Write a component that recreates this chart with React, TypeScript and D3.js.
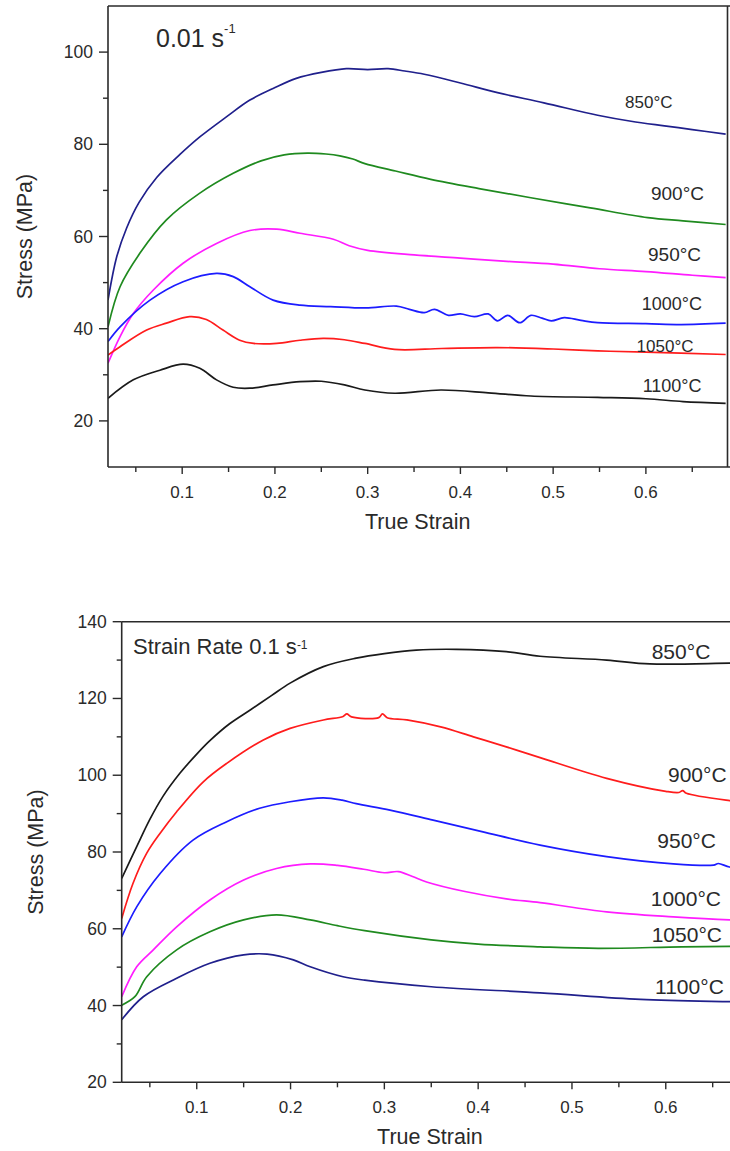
import React from "react";
import * as d3 from "d3";

type Pt = [number, number];

// ---- Temperatures (curve labels) ----
const TEMPS = ["850", "900", "950", "1000", "1050", "1100"];

// ---- Strain rate 0.01 s^-1: [true strain, stress MPa] ----
const slow850: Pt[] = [
  [0.02, 46.2], [0.0294, 55.6], [0.04, 61.8], [0.0535, 67.4], [0.0725, 72.8], [0.0976, 77.8], [0.119, 81.6],
  [0.148, 86.0], [0.173, 89.6], [0.198, 92.1], [0.223, 94.3], [0.25, 95.6], [0.277, 96.4],
  [0.3, 96.2], [0.322, 96.4], [0.34, 95.9], [0.361, 95.2], [0.4, 93.3], [0.44, 91.2],
  [0.49, 89.0], [0.548, 86.3], [0.584, 85.0], [0.62, 84.0], [0.65, 83.2], [0.686, 82.2],
];
const slow900: Pt[] = [
  [0.02, 40.4], [0.033, 49.1], [0.0545, 56.4], [0.083, 63.6], [0.119, 69.4], [0.155, 73.7],
  [0.185, 76.4], [0.21, 77.7], [0.235, 78.1], [0.255, 77.9], [0.27, 77.5], [0.284, 76.8], [0.297, 75.8],
  [0.33, 74.2], [0.368, 72.4], [0.42, 70.4], [0.476, 68.4], [0.54, 66.2], [0.602, 64.1],
  [0.64, 63.4], [0.686, 62.6],
];
const slow950: Pt[] = [
  [0.02, 32.5], [0.033, 38.3], [0.0473, 43.3], [0.0689, 48.4], [0.101, 54.2], [0.137, 58.5],
  [0.173, 61.3], [0.202, 61.6], [0.227, 60.7], [0.263, 59.4], [0.28, 58.0], [0.3, 57.0],
  [0.35, 56.0], [0.4, 55.3], [0.45, 54.6], [0.5, 54.0], [0.55, 53.0], [0.6, 52.4],
  [0.65, 51.6], [0.686, 51.1],
];
const slow1000: Pt[] = [
  [0.02, 37.2], [0.033, 40.4], [0.0653, 46.2], [0.101, 50.2], [0.137, 52.0], [0.155, 51.3],
  [0.173, 49.1], [0.198, 46.2], [0.227, 45.1], [0.26, 44.8], [0.298, 44.5], [0.331, 44.9],
  [0.345, 44.2], [0.361, 43.5], [0.372, 44.2], [0.387, 42.9], [0.4, 43.2], [0.415, 42.6],
  [0.43, 43.2], [0.44, 41.7], [0.451, 42.9], [0.464, 41.3], [0.476, 42.9], [0.488, 42.3],
  [0.498, 41.7], [0.512, 42.4], [0.53, 41.8], [0.548, 41.3], [0.6, 41.1], [0.638, 40.9],
  [0.686, 41.2],
];
const slow1050: Pt[] = [
  [0.02, 34.3], [0.033, 36.1], [0.0617, 39.7], [0.083, 41.2], [0.108, 42.6], [0.126, 42.0],
  [0.144, 39.7], [0.162, 37.5], [0.177, 36.8], [0.202, 36.8], [0.227, 37.5], [0.252, 37.9],
  [0.275, 37.6], [0.297, 36.8], [0.329, 35.5], [0.38, 35.7], [0.44, 35.9], [0.5, 35.6],
  [0.548, 35.2], [0.6, 34.9], [0.686, 34.4],
];
const slow1100: Pt[] = [
  [0.02, 24.9], [0.0473, 28.9], [0.076, 31.0], [0.101, 32.3], [0.119, 31.4], [0.137, 28.9],
  [0.155, 27.3], [0.173, 27.1], [0.198, 27.8], [0.227, 28.5], [0.25, 28.6], [0.275, 27.8],
  [0.297, 26.7], [0.329, 26.0], [0.379, 26.7], [0.43, 26.1], [0.476, 25.4], [0.548, 25.1],
  [0.6, 24.8], [0.64, 24.2], [0.686, 23.8],
];

// ---- Strain rate 0.1 s^-1 ----
const fast850: Pt[] = [
  [0.02, 73.1], [0.036, 81.4], [0.05, 88.5], [0.064, 94.5], [0.082, 100.5], [0.1, 105.5],
  [0.114, 109.0], [0.135, 113.4], [0.157, 117.0], [0.18, 120.8], [0.1995, 124.0], [0.235, 128.3],
  [0.27, 130.5], [0.3, 131.7], [0.334, 132.6], [0.377, 132.8], [0.43, 132.2], [0.466, 131.0],
  [0.537, 130.0], [0.583, 129.0], [0.668, 129.2], [0.685, 129.2],
];
const fast900: Pt[] = [
  [0.02, 62.7], [0.032, 71.8], [0.0467, 79.7], [0.061, 84.9], [0.0786, 90.5], [0.107, 98.3],
  [0.132, 103.1], [0.171, 109.2], [0.1995, 112.2], [0.235, 114.4], [0.256, 115.3], [0.26, 116.0],
  [0.265, 115.2], [0.294, 115.0], [0.298, 116.0], [0.303, 115.0], [0.324, 114.4], [0.36, 112.6],
  [0.395, 110.0], [0.43, 107.4], [0.466, 104.6], [0.537, 99.2], [0.6, 95.8], [0.614, 95.5],
  [0.618, 96.0], [0.622, 95.3], [0.668, 93.4], [0.685, 93.0],
];
const fast950: Pt[] = [
  [0.02, 57.9], [0.036, 65.7], [0.061, 74.4], [0.096, 83.1], [0.132, 87.9], [0.167, 91.4],
  [0.1995, 93.1], [0.235, 94.1], [0.255, 93.5], [0.27, 92.6], [0.306, 90.9], [0.352, 88.3],
  [0.404, 85.3], [0.466, 81.8], [0.537, 78.8], [0.608, 76.9], [0.651, 76.6], [0.656, 77.0],
  [0.668, 76.1], [0.685, 75.9],
];
const fast1000: Pt[] = [
  [0.02, 42.3], [0.036, 50.1], [0.0537, 54.5], [0.0786, 60.5], [0.114, 67.5], [0.15, 72.7],
  [0.185, 75.7], [0.221, 76.9], [0.25, 76.5], [0.278, 75.5], [0.3, 74.6], [0.315, 74.9],
  [0.33, 73.6], [0.345, 72.2], [0.386, 69.7], [0.43, 67.8], [0.466, 66.8], [0.537, 64.4],
  [0.608, 63.1], [0.668, 62.3], [0.685, 62.2],
];
const fast1050: Pt[] = [
  [0.02, 40.1], [0.034, 42.3], [0.0467, 47.5], [0.0786, 54.5], [0.114, 59.2], [0.15, 62.3],
  [0.185, 63.6], [0.221, 62.3], [0.25, 60.8], [0.279, 59.5], [0.35, 57.1], [0.4, 56.0],
  [0.466, 55.3], [0.528, 54.9], [0.617, 55.3], [0.668, 55.4], [0.685, 55.5],
];
const fast1100: Pt[] = [
  [0.02, 36.3], [0.043, 42.3], [0.0786, 47.1], [0.114, 51.0], [0.15, 53.2], [0.175, 53.4],
  [0.203, 51.9], [0.221, 50.1], [0.256, 47.5], [0.279, 46.6], [0.35, 44.9], [0.466, 43.3],
  [0.573, 41.6], [0.668, 41.0], [0.685, 40.9],
];

// ---- Axis ticks ----
const STRAIN_MAJOR = [0.1, 0.2, 0.3, 0.4, 0.5, 0.6];
const STRAIN_MINOR = [0.05, 0.15, 0.25, 0.35, 0.45, 0.55, 0.65];
const SLOW_STRESS_MAJOR = [20, 40, 60, 80, 100];
const SLOW_STRESS_MINOR = [30, 50, 70, 90];
const FAST_STRESS_MAJOR = [20, 40, 60, 80, 100, 120, 140];
const FAST_STRESS_MINOR = [30, 50, 70, 90, 110, 130];

// ---- Label anchors (data coordinates) ----
const SLOW_LABEL_AT: Pt[] = [
  [0.5775, 89.0], [0.6055, 69.4], [0.6023, 56.0], [0.5955, 45.4], [0.59, 36.1], [0.5965, 27.6],
];
const SLOW_LABEL_SIZE = [17, 19, 19, 18, 17, 18];
const FAST_LABEL_AT: Pt[] = [
  [0.585, 132.2], [0.6024, 100.1], [0.591, 83.1], [0.584, 67.9], [0.585, 58.55], [0.5886, 44.9],
];
const FAST_LABEL_SIZE = [21, 21, 21, 21, 21, 21];

const NAVY = "#20208c";
const GREEN = "#1f8a1f";
const MAGENTA = "#ff1cff";
const BLUE = "#1c1cff";
const RED = "#ff1c1c";
const BLACK = "#1a1a1a";

const SLOW_COLORS = [NAVY, GREEN, MAGENTA, BLUE, RED, BLACK];
const FAST_COLORS = [BLACK, RED, BLUE, MAGENTA, GREEN, NAVY];

const FONT = "'Liberation Sans', Arial, Helvetica, sans-serif";
const INK = "#2a2a2a";

interface PanelProps {
  id: string;
  left: number;
  right: number;
  top: number;
  bottom: number;
  xDomain: [number, number];
  yDomain: [number, number];
  yMajor: number[];
  yMinor: number[];
  series: Pt[][];
  colors: string[];
  labelAt: Pt[];
  labelSize: number[];
  rightBorder: boolean;
  yTitleX: number;
  title: React.ReactNode;
}

function Panel(p: PanelProps) {
  const x = d3.scaleLinear().domain(p.xDomain).range([p.left, p.right]);
  const y = d3.scaleLinear().domain(p.yDomain).range([p.bottom, p.top]);
  const line = d3
    .line<Pt>()
    .x((d) => x(d[0]))
    .y((d) => y(d[1]))
    .curve(d3.curveCatmullRom.alpha(0.5));
  const clipId = `clip-${p.id}`;
  const axisW = 1.6;
  const midX = (p.left + p.right) / 2;
  const midY = (p.top + p.bottom) / 2;

  return (
    <g fontFamily={FONT} fill={INK}>
      <defs>
        <clipPath id={clipId}>
          <rect x={p.left} y={p.top} width={p.right - p.left} height={p.bottom - p.top} />
        </clipPath>
      </defs>

      {/* stress–strain curves */}
      <g clipPath={`url(#${clipId})`}>
        {p.series.map((s, i) => (
          <path
            key={i}
            d={line(s) || ""}
            fill="none"
            stroke={p.colors[i]}
            strokeWidth={1.7}
            strokeLinejoin="round"
          />
        ))}
      </g>

      {/* frame */}
      <line x1={p.left} x2={p.right + 10} y1={p.top} y2={p.top} stroke={INK} strokeWidth={axisW} />
      <line x1={p.left} x2={p.left} y1={p.top} y2={p.bottom} stroke={INK} strokeWidth={axisW} />
      <line x1={p.left} x2={p.right + 10} y1={p.bottom} y2={p.bottom} stroke={INK} strokeWidth={axisW} />
      {p.rightBorder && (
        <line x1={p.right} x2={p.right} y1={p.top} y2={p.bottom} stroke={INK} strokeWidth={axisW} />
      )}

      {/* y ticks */}
      {p.yMajor.map((v) => (
        <g key={`ym${v}`}>
          <line x1={p.left - 9} x2={p.left} y1={y(v)} y2={y(v)} stroke={INK} strokeWidth={1.4} />
          <text
            x={p.left - 15}
            y={y(v)}
            textAnchor="end"
            dominantBaseline="central"
            fontSize={17.5}
          >
            {v}
          </text>
        </g>
      ))}
      {p.yMinor.map((v) => (
        <line key={`yn${v}`} x1={p.left - 5} x2={p.left} y1={y(v)} y2={y(v)} stroke={INK} strokeWidth={1.4} />
      ))}

      {/* x ticks */}
      {STRAIN_MAJOR.map((v) => (
        <g key={`xm${v}`}>
          <line x1={x(v)} x2={x(v)} y1={p.bottom} y2={p.bottom + 7} stroke={INK} strokeWidth={1.4} />
          <text x={x(v)} y={p.bottom + 25} textAnchor="middle" dominantBaseline="central" fontSize={17}>
            {v.toFixed(1)}
          </text>
        </g>
      ))}
      {STRAIN_MINOR.map((v) => (
        <line key={`xn${v}`} x1={x(v)} x2={x(v)} y1={p.bottom} y2={p.bottom + 5} stroke={INK} strokeWidth={1.4} />
      ))}

      {/* axis titles */}
      <text x={midX} y={p.bottom + 55} textAnchor="middle" dominantBaseline="central" fontSize={21.5}>
        True Strain
      </text>
      <text
        transform={`translate(${p.yTitleX},${midY}) rotate(-90)`}
        textAnchor="middle"
        dominantBaseline="central"
        fontSize={21.5}
      >
        Stress (MPa)
      </text>

      {/* curve labels */}
      {TEMPS.map((t, i) => (
        <text
          key={t}
          x={x(p.labelAt[i][0])}
          y={y(p.labelAt[i][1])}
          dominantBaseline="central"
          fontSize={p.labelSize[i]}
        >
          {t}°C
        </text>
      ))}

      {p.title}
    </g>
  );
}

export default function App() {
  return (
    <div style={{ position: "absolute", left: 0, top: 0, background: "#fff" }}>
      <svg width={730} height={1151} viewBox="0 0 730 1151" style={{ display: "block" }}>
        <rect width={730} height={1151} fill="#ffffff" />
        <Panel
          id="slow"
          left={108}
          right={727.5}
          top={6}
          bottom={467}
          xDomain={[0.02, 0.688]}
          yDomain={[10, 110]}
          yMajor={SLOW_STRESS_MAJOR}
          yMinor={SLOW_STRESS_MINOR}
          series={[slow850, slow900, slow950, slow1000, slow1050, slow1100]}
          colors={SLOW_COLORS}
          labelAt={SLOW_LABEL_AT}
          labelSize={SLOW_LABEL_SIZE}
          rightBorder={true}
          yTitleX={25}
          title={
            <text x={156} y={47} fontSize={25} fill={INK} fontFamily={FONT}>
              0.01 s
              <tspan fontSize={13} dy={-14}>-1</tspan>
            </text>
          }
        />
        <Panel
          id="fast"
          left={121.7}
          right={738}
          top={621.7}
          bottom={1082.3}
          xDomain={[0.02, 0.677]}
          yDomain={[20, 140]}
          yMajor={FAST_STRESS_MAJOR}
          yMinor={FAST_STRESS_MINOR}
          series={[fast850, fast900, fast950, fast1000, fast1050, fast1100]}
          colors={FAST_COLORS}
          labelAt={FAST_LABEL_AT}
          labelSize={FAST_LABEL_SIZE}
          rightBorder={false}
          yTitleX={36}
          title={
            <text x={133} y={654} fontSize={22} fill={INK} fontFamily={FONT}>
              Strain Rate 0.1 s
              <tspan fontSize={12} dy={-5}>-1</tspan>
            </text>
          }
        />
      </svg>
    </div>
  );
}
